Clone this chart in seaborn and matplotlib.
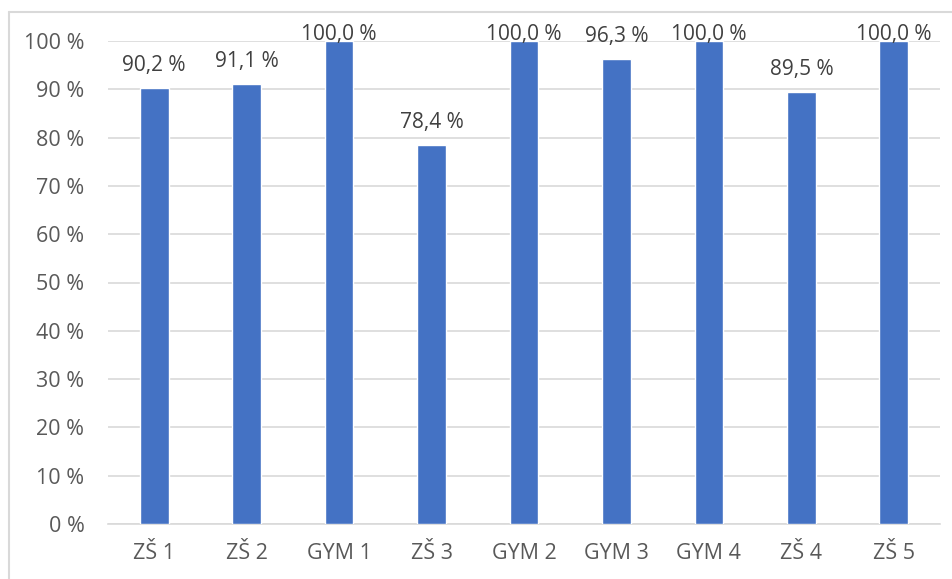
import matplotlib
matplotlib.use("Agg")
import matplotlib.pyplot as plt
import seaborn as sns
import pandas as pd
from matplotlib.lines import Line2D

categories = ["ZŠ 1", "ZŠ 2", "GYM 1", "ZŠ 3", "GYM 2", "GYM 3", "GYM 4", "ZŠ 4", "ZŠ 5"]
values = [90.2, 91.1, 100.0, 78.4, 100.0, 96.3, 100.0, 89.5, 100.0]
yticks = list(range(0, 101, 10))

sns.set_theme(style="white")
plt.rcParams['font.family'] = ['Open Sans', 'DejaVu Sans']

df = pd.DataFrame({"cat": categories, "val": values})
fig = plt.figure(figsize=(9.53, 5.79), dpi=100)
ax = fig.add_axes([108/953, 55/579, 832/953, 483/579])
sns.barplot(data=df, x="cat", y="val", color="#4472C4", saturation=1, width=0.31, ax=ax, zorder=3)

ax.set_ylim(0, 100)
ax.set_xlim(-0.5, len(categories) - 0.5)
ax.set_yticks(yticks)
ax.set_yticklabels([f"{t} %" for t in yticks])
ax.yaxis.grid(True, color="#D9D9D9", linewidth=1.2, zorder=0)
for s in ["top", "right", "left"]:
    ax.spines[s].set_visible(False)
ax.spines["bottom"].set_color("#D9D9D9")
ax.spines["bottom"].set_linewidth(1.2)
ax.tick_params(axis="both", length=0, labelsize=15.5, colors="#595959")
ax.tick_params(axis="y", pad=17)
ax.tick_params(axis="x", pad=14)
ax.set_xlabel("")
ax.set_ylabel("")

# data labels: above the bar, but kept inside the chart area (like Excel)
for i, v in enumerate(values):
    y = min(v + 3.5, 100.3)
    ax.text(i, y, f"{v:.1f} %".replace(".", ","), ha="center", va="baseline",
            fontsize=15, color="#404040", clip_on=False, zorder=5)

# outer frame (left and top edges visible)
fig.add_artist(Line2D([9/953, 9/953], [0, 1 - 12/579], transform=fig.transFigure, color="#D9D9D9", lw=1.5))
fig.add_artist(Line2D([9/953, 1], [1 - 12/579, 1 - 12/579], transform=fig.transFigure, color="#D9D9D9", lw=1.5))

fig.savefig("out.png", dpi=100)
